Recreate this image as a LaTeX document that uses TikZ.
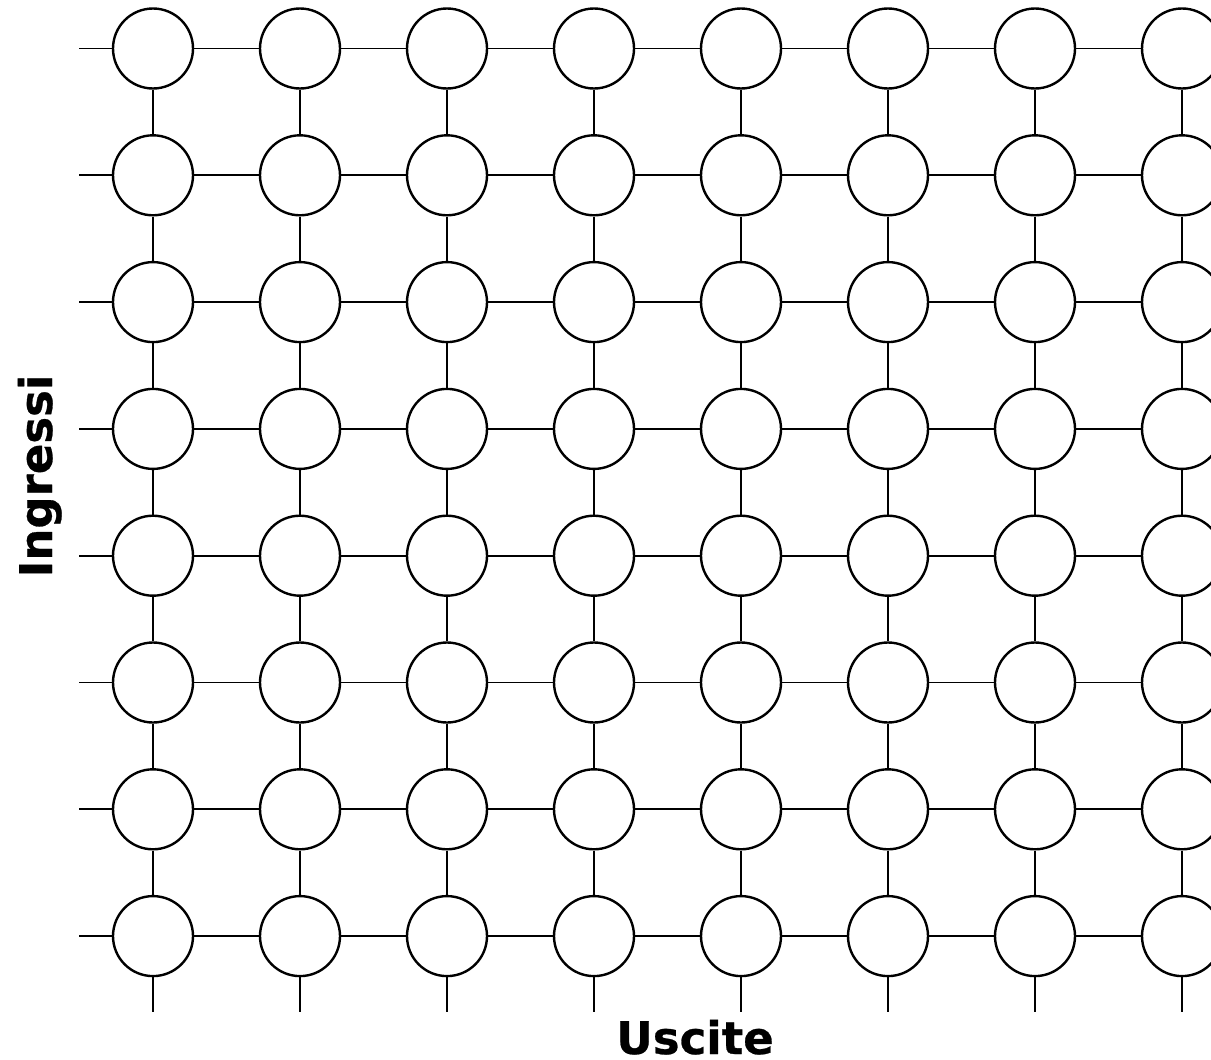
\documentclass[tikz,border=0pt]{standalone}
\usepackage{fontspec}
\setmainfont{DejaVu Sans}[BoldFeatures={FakeBold=0.6}]
\begin{document}
\begin{tikzpicture}[x=1pt,y=-1pt,
  cell/.style={circle, draw, line width=2.4pt, minimum size=80pt, inner sep=0pt, fill=white},
  wire/.style={line width=1.9pt},
  lbl/.style={font=\fontsize{45}{54}\selectfont\bfseries, inner sep=0pt}]
\useasboundingbox (0,0) rectangle (1211,1060);
\clip (0,0) rectangle (1211,1060);
\foreach \i in {1,...,8} {
  \foreach \j in {1,...,8} {
    \node[cell] (c-\i-\j) at ({153+147*(\j-1)}, {48.5+126.8*(\i-1)}) {};
  }
}
\foreach \i in {1,...,8} {
  \coordinate (in-\i) at (79, {48.5+126.8*(\i-1)});
  \draw[wire] (in-\i) -- (c-\i-1);
  \foreach \j [count=\k from 2] in {1,...,7} {
    \draw[wire] (c-\i-\j) -- (c-\i-\k);
  }
}
\foreach \j in {1,...,8} {
  \foreach \i [count=\k from 2] in {1,...,7} {
    \draw[wire] (c-\i-\j) -- (c-\k-\j);
  }
  \coordinate (out-\j) at ({153+147*(\j-1)}, 1012);
  \draw[wire] (c-8-\j) -- (out-\j);
}
\node[lbl, anchor=base] (uscite) at (695,1054) {Uscite};
\node[lbl, rotate=90, anchor=base] (ingressi) at (52,476) {Ingressi};
\end{tikzpicture}
\end{document}
